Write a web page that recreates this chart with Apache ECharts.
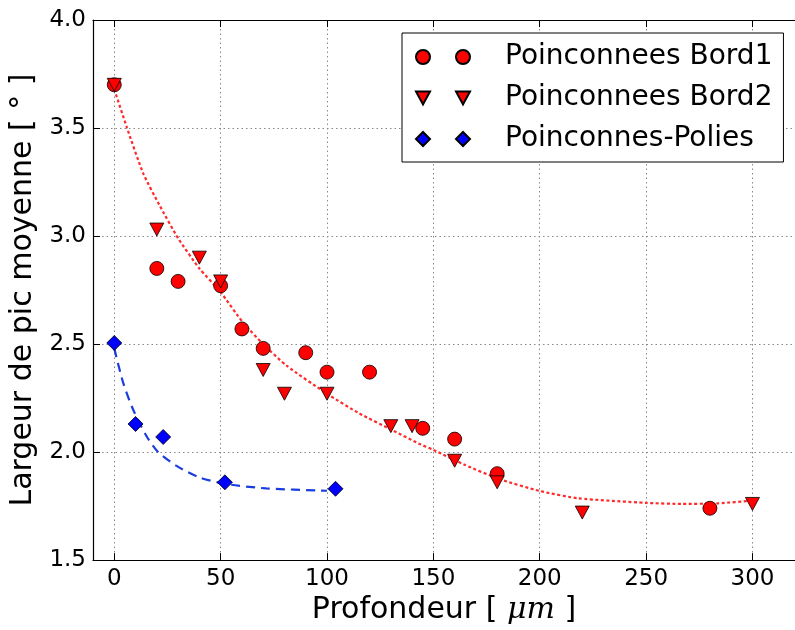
<!DOCTYPE html>
<html>
<head>
<meta charset="utf-8">
<script src="https://cdn.jsdelivr.net/npm/echarts@6/dist/echarts.min.js"></script>
<style>
html,body{margin:0;padding:0;background:#fff;}
#chart{width:795px;height:630px;}
</style>
</head>
<body>
<div id="chart"></div>
<script>
// ---- data ----
const xTicks = [0, 50, 100, 150, 200, 250, 300];
const yTicks = [1.5, 2.0, 2.5, 3.0, 3.5, 4.0];

const bord1X = [0, 20, 30, 50, 60, 70, 90, 100, 120, 145, 160, 180, 280];
const bord1Y = [3.70, 2.85, 2.79, 2.77, 2.57, 2.48, 2.46, 2.37, 2.37, 2.11, 2.06, 1.90, 1.74];

const bord2X = [0, 20, 40, 50, 70, 80, 100, 130, 140, 160, 180, 220, 300];
const bord2Y = [3.70, 3.03, 2.90, 2.79, 2.38, 2.27, 2.27, 2.12, 2.12, 1.96, 1.86, 1.72, 1.76];

const poliesX = [0, 10, 23, 52, 104];
const poliesY = [2.505, 2.13, 2.07, 1.86, 1.83];

// fitted curves
const fitRedX = [0, 6, 13.6, 21.4, 30, 40, 50, 60.5, 70, 81, 100, 115, 131, 143, 150, 165, 181, 200, 218, 250, 267, 284, 300];
const fitRedY = [3.68, 3.50, 3.29, 3.14, 2.99, 2.85, 2.74, 2.60, 2.50, 2.40, 2.27, 2.18, 2.10, 2.04, 2.01, 1.94, 1.875, 1.82, 1.786, 1.765, 1.76, 1.763, 1.775];

const fitBlueX = [0, 4.2, 8.9, 15.2, 20.6, 29.3, 40.2, 52.7, 71.4, 100];
const fitBlueY = [2.48, 2.32, 2.196, 2.073, 2.0, 1.936, 1.882, 1.852, 1.832, 1.821];

const names = ['Poinconnees Bord1', 'Poinconnees Bord2', 'Poinconnes-Polies'];

const zip = (xs, ys) => xs.map((x, i) => [x, ys[i]]);
const FONT = 'DejaVu Sans';

const chart = echarts.init(document.getElementById('chart'), null, {renderer: 'canvas'});

const iconCircles = 'path://M0,7A7,7,0,1,1,14,7A7,7,0,1,1,0,7Z M40,7A7,7,0,1,1,54,7A7,7,0,1,1,40,7Z';
const iconTris = 'path://M0,0L14,0L7,13Z M40,0L54,0L47,13Z';
const iconDiamonds = 'path://M7,0L14,7L7,14L0,7Z M47,0L54,7L47,14L40,7Z';

const option = {
  animation: false,
  backgroundColor: '#fff',
  grid: {left: 93, top: 20, right: -2, bottom: 66, containLabel: false},
  legend: {
    left: 402, top: 33,
    orient: 'vertical',
    backgroundColor: '#fff',
    borderColor: '#000',
    borderWidth: 1,
    borderRadius: 0,
    padding: [10, 11, 9, 13],
    itemGap: 13,
    itemWidth: 54,
    itemHeight: 14,
    textStyle: {fontFamily: FONT, fontSize: 28, color: '#000', lineHeight: 28, padding: [0, 0, 0, 30]},
    data: [
      {name: names[0], icon: iconCircles},
      {name: names[1], icon: iconTris},
      {name: names[2], icon: iconDiamonds}
    ]
  },
  xAxis: [{
    type: 'value',
    min: -10, max: 320,
    position: 'bottom',
    name: 'Profondeur [ {i|μm} ]',
    nameLocation: 'middle',
    nameGap: 32,
    nameTextStyle: {fontFamily: FONT, fontSize: 30, color: '#000',
      rich: {i: {fontFamily: 'DejaVu Serif', fontStyle: 'italic', fontSize: 30, color: '#000'}}},
    axisLine: {show: true, onZero: false, lineStyle: {color: '#000', width: 1.2}},
    axisTick: {show: true, inside: true, length: 7, customValues: xTicks, lineStyle: {color: '#000'}},
    axisLabel: {customValues: xTicks, fontFamily: FONT, fontSize: 23, color: '#000', margin: 7},
    splitLine: {show: true, lineStyle: {color: '#888', type: [1.5, 3], width: 1}}
  }, {
    type: 'value',
    min: -10, max: 320,
    position: 'top',
    axisLine: {show: true, onZero: false, lineStyle: {color: '#000', width: 1.2}},
    axisTick: {show: true, inside: true, length: 7, customValues: xTicks, lineStyle: {color: '#000'}},
    axisLabel: {show: false},
    splitLine: {show: false}
  }],
  yAxis: {
    type: 'value',
    min: 1.5, max: 4.0, interval: 0.5,
    name: 'Largeur de pic moyenne [ ° ]',
    nameLocation: 'middle',
    nameGap: 52,
    nameTextStyle: {fontFamily: FONT, fontSize: 30, color: '#000'},
    axisLine: {show: true, onZero: false, lineStyle: {color: '#000', width: 1.2}},
    axisTick: {show: true, inside: true, length: 7, lineStyle: {color: '#000'}},
    axisLabel: {fontFamily: FONT, fontSize: 23, color: '#000', margin: 7,
      formatter: v => v.toFixed(1)},
    splitLine: {show: true, lineStyle: {color: '#888', type: [1.5, 3], width: 1}}
  },
  series: [
    {
      name: 'fitRed', type: 'line', data: zip(fitRedX, fitRedY),
      smooth: 0.2, showSymbol: false, symbol: 'none', z: 2, silent: true,
      lineStyle: {color: '#ff2a2a', width: 2.2, type: [3, 2.5]}
    },
    {
      name: 'fitBlue', type: 'line', data: zip(fitBlueX, fitBlueY),
      smooth: 0.25, showSymbol: false, symbol: 'none', z: 2, silent: true,
      lineStyle: {color: '#1a3de0', width: 2.2, type: [9, 6]}
    },
    {
      name: names[0], type: 'scatter', data: zip(bord1X, bord1Y),
      symbol: 'circle', symbolSize: 14, z: 3,
      itemStyle: {color: '#ff0000', borderColor: '#000', borderWidth: 0.8, opacity: 1}
    },
    {
      name: names[1], type: 'scatter', data: zip(bord2X, bord2Y),
      symbol: 'triangle', symbolRotate: 180, symbolSize: [14, 13], z: 3,
      itemStyle: {color: '#ff0000', borderColor: '#000', borderWidth: 0.8, opacity: 1}
    },
    {
      name: names[2], type: 'scatter', data: zip(poliesX, poliesY),
      symbol: 'diamond', symbolSize: [15, 15], z: 3,
      itemStyle: {color: '#0000ff', borderColor: '#000', borderWidth: 0.8, opacity: 1}
    }
  ]
};
chart.setOption(option);
</script>
</body>
</html>
